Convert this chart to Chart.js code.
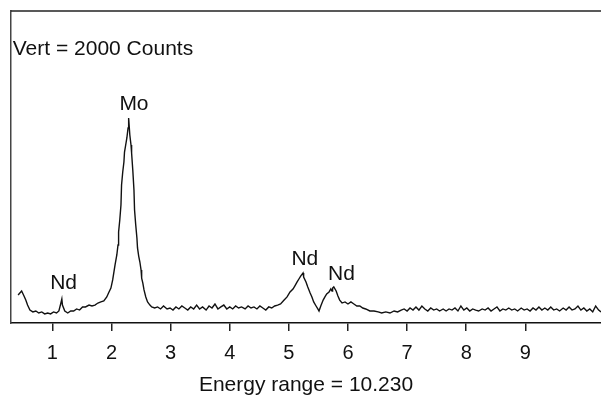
<!DOCTYPE html>
<html>
<head>
<meta charset="utf-8">
<script src="https://cdn.jsdelivr.net/npm/chart.js@4.4.1/dist/chart.umd.min.js"></script>
<style>
  body { margin: 0; background: #fff; }
  #spectrum { display: block; }
</style>
</head>
<body>
<canvas id="spectrum" width="601" height="396"></canvas>
<script>
// EDS spectrum, energy in keV, counts (full scale = 2000)
const energy = [
  0.42, 0.45, 0.48, 0.52, 0.55, 0.58, 0.62, 0.67, 0.72, 0.77, 0.82, 0.87, 0.92, 0.97,
  1.02, 1.07, 1.11, 1.14, 1.16, 1.17, 1.21, 1.26, 1.31, 1.36, 1.41, 1.46, 1.51, 1.56,
  1.62, 1.67, 1.72, 1.77, 1.82, 1.87, 1.92, 1.95, 1.99, 2.02, 2.06, 2.09, 2.11, 2.12,
  2.14, 2.16, 2.17, 2.19, 2.21, 2.22, 2.24, 2.26, 2.28, 2.29, 2.31, 2.33, 2.34, 2.36,
  2.38, 2.39, 2.41, 2.43, 2.44, 2.46, 2.48, 2.50, 2.51, 2.53, 2.55, 2.58, 2.61, 2.65,
  2.68, 2.73, 2.78, 2.83, 2.88, 2.94, 2.99, 3.04, 3.09, 3.14, 3.19, 3.24, 3.29, 3.34,
  3.39, 3.44, 3.49, 3.54, 3.60, 3.65, 3.70, 3.75, 3.80, 3.85, 3.90, 3.95, 4.00, 4.05,
  4.10, 4.15, 4.20, 4.26, 4.31, 4.36, 4.41, 4.46, 4.51, 4.56, 4.61, 4.66, 4.71, 4.76,
  4.81, 4.86, 4.92, 4.97, 5.02, 5.07, 5.10, 5.14, 5.17, 5.20, 5.24, 5.25, 5.29, 5.32,
  5.36, 5.39, 5.42, 5.46, 5.49, 5.51, 5.54, 5.58, 5.61, 5.64, 5.68, 5.71, 5.73, 5.74,
  5.76, 5.80, 5.83, 5.86, 5.90, 5.95, 6.00, 6.05, 6.10, 6.15, 6.20, 6.25, 6.30, 6.37,
  6.44, 6.51, 6.57, 6.64, 6.71, 6.78, 6.84, 6.90, 6.95, 7.00, 7.05, 7.10, 7.15, 7.20,
  7.25, 7.30, 7.35, 7.40, 7.45, 7.50, 7.55, 7.61, 7.66, 7.71, 7.76, 7.81, 7.86, 7.91,
  7.96, 8.01, 8.06, 8.11, 8.16, 8.21, 8.27, 8.32, 8.37, 8.42, 8.47, 8.52, 8.57, 8.62,
  8.67, 8.72, 8.77, 8.82, 8.87, 8.93, 8.98, 9.03, 9.08, 9.13, 9.18, 9.23, 9.28, 9.33,
  9.38, 9.43, 9.48, 9.53, 9.58, 9.64, 9.69, 9.74, 9.79, 9.84, 9.89, 9.94, 9.99, 10.04,
  10.09, 10.14, 10.19, 10.24, 10.28
];
const counts = [
  179, 192, 205, 173, 147, 115, 83, 71, 77, 64, 71, 58, 64, 58,
  71, 64, 77, 122, 154, 115, 77, 64, 77, 77, 90, 83, 103, 103,
  115, 109, 115, 128, 135, 141, 167, 192, 224, 276, 372, 436, 500, 583,
  660, 756, 885, 968, 1032, 1096, 1141, 1186, 1250, 1314, 1205, 1141, 1090, 981,
  853, 724, 628, 545, 481, 429, 391, 340, 288, 256, 212, 167, 135, 115,
  103, 96, 103, 90, 109, 90, 96, 83, 103, 90, 109, 96, 83, 103,
  90, 115, 90, 103, 83, 109, 96, 122, 90, 103, 115, 90, 103, 90,
  109, 96, 103, 90, 109, 96, 103, 90, 109, 96, 83, 103, 96, 109,
  115, 122, 147, 167, 199, 218, 237, 263, 282, 301, 321, 295, 263, 231,
  192, 167, 135, 109, 90, 77, 109, 147, 167, 186, 199, 218, 205, 224,
  231, 205, 173, 147, 128, 135, 122, 135, 122, 109, 109, 96, 90, 77,
  77, 71, 64, 71, 64, 77, 71, 83, 90, 77, 96, 83, 103, 83,
  109, 90, 77, 96, 83, 90, 77, 90, 77, 90, 83, 96, 77, 109,
  83, 96, 77, 90, 83, 77, 90, 83, 96, 77, 90, 103, 77, 90,
  83, 96, 83, 90, 77, 96, 83, 90, 77, 96, 83, 103, 83, 96,
  83, 103, 83, 90, 77, 96, 83, 103, 83, 90, 109, 83, 96, 77,
  90, 71, 109, 83, 71
];
const tickValues = [1, 2, 3, 4, 5, 6, 7, 8, 9];
const peakNames = ["Nd", "Mo", "Nd", "Nd"];
const peakEnergy = [1.19, 2.38, 5.27, 5.89];
const peakCounts = [256, 1401, 410, 311];
const vertText = "Vert = 2000 Counts";
const vertPos = [0.33, 1756];
const axisTitle = "Energy range = 10.230";

const fontFamily = '"Liberation Sans", Arial, Helvetica, sans-serif';
const ink = "#111";

const framePlugin = {
  id: "frame",
  afterDraw(chart) {
    const { ctx, chartArea, scales } = chart;
    ctx.save();
    // top edge of the plot box
    ctx.strokeStyle = "#222";
    ctx.lineWidth = 1.5;
    ctx.beginPath();
    ctx.moveTo(chartArea.left, chartArea.top);
    ctx.lineTo(chartArea.right, chartArea.top);
    ctx.stroke();

    ctx.fillStyle = ink;
    ctx.font = "21px " + fontFamily;
    ctx.textBaseline = "middle";
    ctx.textAlign = "left";
    ctx.fillText(
      vertText,
      scales.x.getPixelForValue(vertPos[0]),
      scales.y.getPixelForValue(vertPos[1])
    );
    ctx.textAlign = "center";
    peakNames.forEach((name, i) => {
      ctx.fillText(
        name,
        scales.x.getPixelForValue(peakEnergy[i]),
        scales.y.getPixelForValue(peakCounts[i])
      );
    });
    ctx.restore();
  },
};

new Chart(document.getElementById("spectrum"), {
  type: "line",
  data: {
    datasets: [
      {
        data: energy.map((e, i) => ({ x: e, y: counts[i] })),
        borderColor: ink,
        borderWidth: 1.4,
        pointRadius: 0,
        fill: false,
        tension: 0,
      },
    ],
  },
  options: {
    responsive: false,
    animation: false,
    layout: {
      padding: { top: 11, left: 11, right: 0, bottom: 0 },
    },
    plugins: {
      legend: { display: false },
      tooltip: { enabled: false },
      title: {
        display: true,
        position: "bottom",
        text: axisTitle,
        color: ink,
        font: { family: fontFamily, size: 21, weight: "normal", lineHeight: 1 },
        padding: 0,
      },
    },
    scales: {
      x: {
        type: "linear",
        min: 0.3,
        max: 10.28,
        afterBuildTicks: (scale) => {
          scale.ticks = tickValues.map((v) => ({ value: v }));
        },
        afterFit: (scale) => {
          scale.height = 52;
        },
        ticks: {
          color: ink,
          font: { family: fontFamily, size: 20 },
          padding: 10,
          autoSkip: false,
          maxRotation: 0,
          callback: (v) => String(v),
        },
        grid: {
          drawOnChartArea: false,
          drawTicks: true,
          tickLength: 8,
          color: "#222",
          lineWidth: 1.5,
        },
        border: { display: true, color: ink, width: 1.5 },
      },
      y: {
        min: 0,
        max: 2000,
        afterFit: (scale) => {
          scale.width = 0;
        },
        ticks: { display: false },
        grid: { display: false },
        border: { display: true, color: "#444", width: 1.5 },
      },
    },
  },
  plugins: [framePlugin],
});
</script>
</body>
</html>
